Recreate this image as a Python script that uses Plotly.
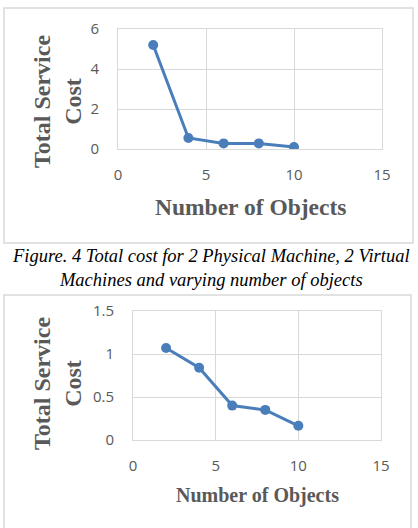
import plotly.graph_objects as go

W, H = 418, 528

# Data
x_objects = [2, 4, 6, 8, 10]
cost_fig4 = [5.2, 0.55, 0.28, 0.28, 0.1]
cost_fig5 = [1.07, 0.84, 0.40, 0.35, 0.165]

x_ticks = [0, 5, 10, 15]
y_ticks_1 = [0, 2, 4, 6]
y_ticks_2 = [0, 0.5, 1, 1.5]
y_ticklabels_2 = ["0", "0.5", "1", "1.5"]

y_title = "Total Service<br>Cost"
x_title = "Number of Objects"
caption = ("Figure. 4 Total cost for 2 Physical Machine, 2 Virtual<br>"
           "Machines and varying number of objects")

BLUE = "#4a7ebb"
GREY = "#595959"
GRID = "#d9d9d9"
TICKFONT = dict(family="Open Sans, Noto Sans, sans-serif", size=15, color=GREY)
TITLEFONT = "Liberation Serif, Times New Roman, serif"


def px_x(p):
    return p / W


def px_y(p):
    return 1 - p / H


fig = go.Figure()
fig.add_trace(go.Scatter(x=x_objects, y=cost_fig4, mode="lines+markers",
                         line=dict(color=BLUE, width=3),
                         marker=dict(color=BLUE, size=10),
                         xaxis="x", yaxis="y", showlegend=False))
fig.add_trace(go.Scatter(x=x_objects, y=cost_fig5, mode="lines+markers",
                         line=dict(color=BLUE, width=3),
                         marker=dict(color=BLUE, size=10),
                         xaxis="x2", yaxis="y2", showlegend=False))

common_x = dict(range=[0, 15], tickvals=x_ticks, showgrid=True, gridcolor=GRID,
                showline=True, linecolor=GRID, mirror=True, zeroline=False,
                tickfont=TICKFONT, ticks="", ticklabelstandoff=12, fixedrange=True,
                automargin=False)
common_y = dict(showgrid=True, gridcolor=GRID, showline=True, linecolor=GRID,
                mirror=True, zeroline=False, tickfont=TICKFONT, ticks="",
                ticklabelstandoff=15, fixedrange=True, automargin=False)

fig.update_layout(
    width=W, height=H,
    margin=dict(l=0, r=0, t=0, b=0, autoexpand=False),
    paper_bgcolor="white", plot_bgcolor="white",
    xaxis=dict(domain=[px_x(118), px_x(382)], anchor="y", **common_x),
    yaxis=dict(domain=[px_y(149), px_y(29)], anchor="x", range=[0, 6],
               tickvals=y_ticks_1, **common_y),
    xaxis2=dict(domain=[px_x(133), px_x(381)], anchor="y2", **common_x),
    yaxis2=dict(domain=[px_y(440), px_y(311)], anchor="x2", range=[0, 1.5],
                tickvals=y_ticks_2, ticktext=y_ticklabels_2, **common_y),
)

# Chart boxes
fig.add_shape(type="rect", xref="paper", yref="paper",
              x0=px_x(4), x1=px_x(413), y0=px_y(243), y1=px_y(8),
              line=dict(color=GRID, width=1.5))
fig.add_shape(type="rect", xref="paper", yref="paper",
              x0=px_x(4), x1=px_x(411), y0=px_y(540), y1=px_y(295),
              line=dict(color=GRID, width=1.5))

ANN = dict(xref="paper", yref="paper", showarrow=False,
           xanchor="center", yanchor="middle")

# Axis titles
fig.add_annotation(x=px_x(57), y=px_y(101), text="<b>" + y_title + "</b>",
                   textangle=-90, font=dict(family=TITLEFONT, size=24, color=GREY), **ANN)
fig.add_annotation(x=px_x(250), y=px_y(207), text="<b>" + x_title + "</b>",
                   font=dict(family=TITLEFONT, size=23.5, color=GREY), **ANN)
fig.add_annotation(x=px_x(57), y=px_y(383), text="<b>" + y_title + "</b>",
                   textangle=-90, font=dict(family=TITLEFONT, size=24, color=GREY), **ANN)
fig.add_annotation(x=px_x(257), y=px_y(495), text="<b>" + x_title + "</b>",
                   font=dict(family=TITLEFONT, size=20, color=GREY), **ANN)

# Caption
fig.add_annotation(x=px_x(211), y=px_y(268), text="<i>" + caption + "</i>",
                   font=dict(family=TITLEFONT, size=18.5, color="black"), **ANN)

fig.write_html("out.html")
